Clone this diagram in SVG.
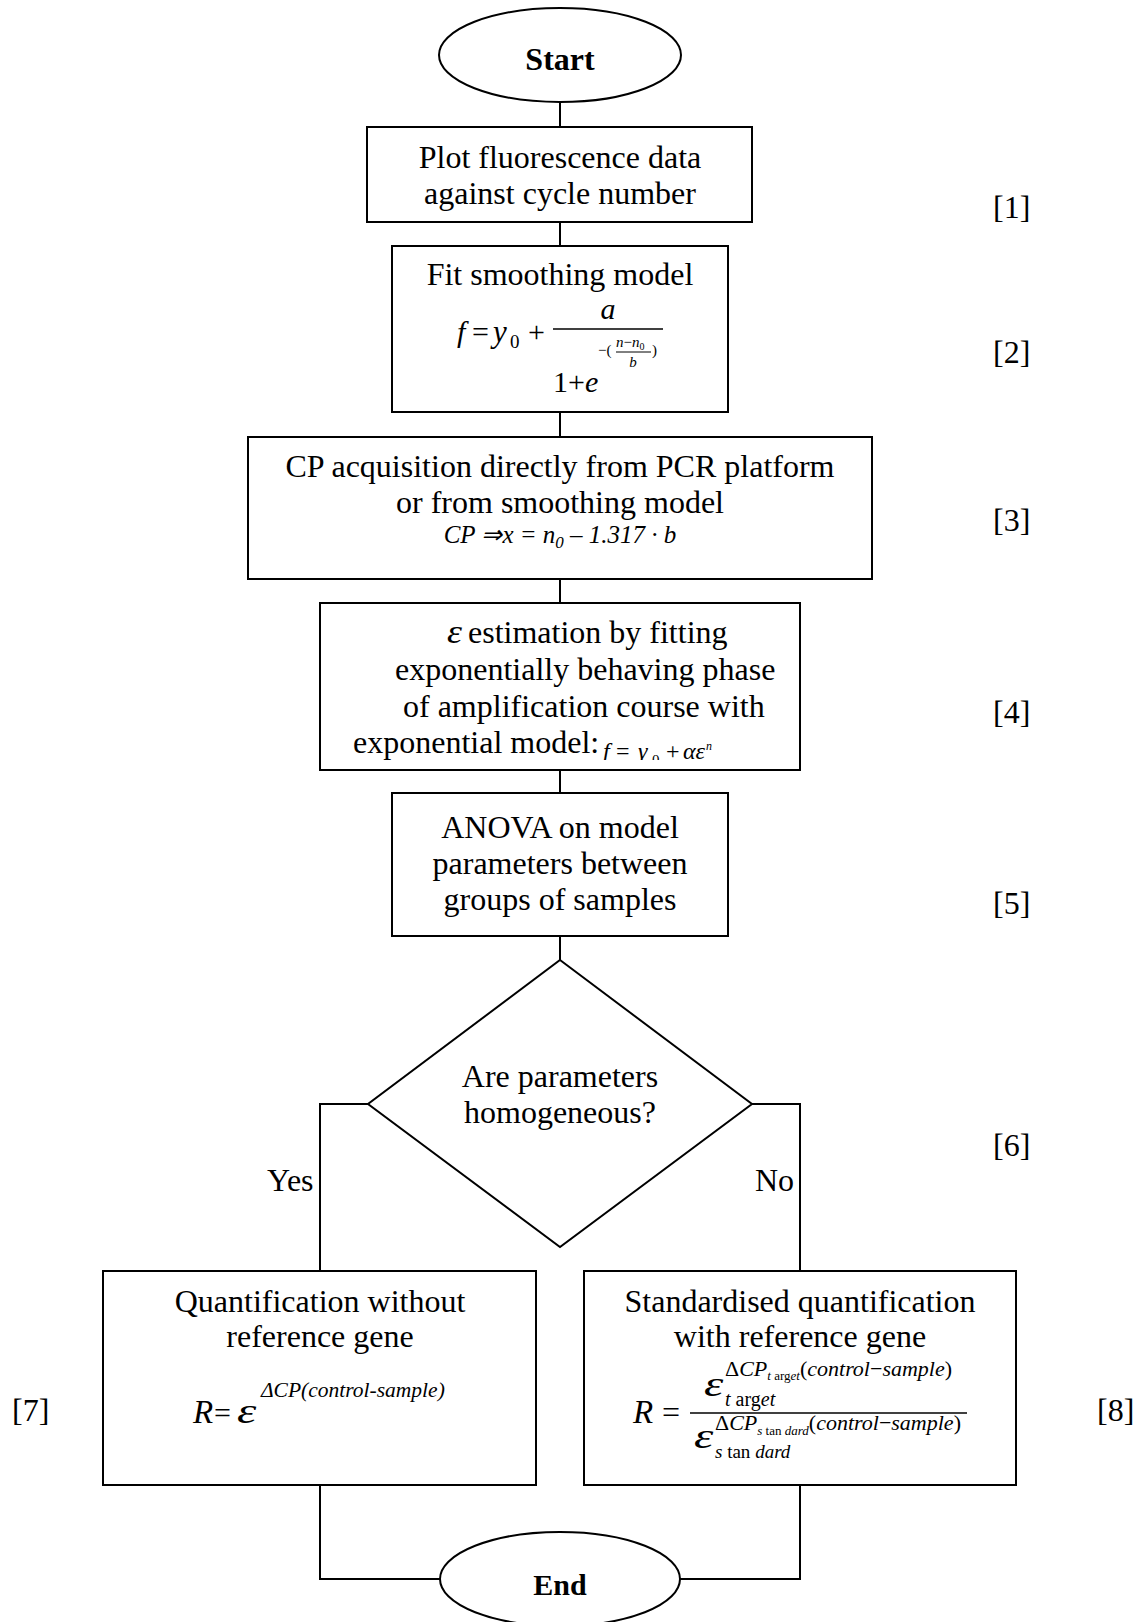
<svg xmlns="http://www.w3.org/2000/svg" width="1135" height="1622" viewBox="0 0 1135 1622">
<style>
svg{font-family:"Liberation Serif","Times New Roman",serif;font-size:32px}
.shape{fill:#fff;stroke:#000;stroke-width:2}
.conn{fill:none;stroke:#000;stroke-width:2}
.bar{stroke:#000;stroke-width:1.5}
text{fill:#000}
.c{text-anchor:middle}
.b{font-weight:bold}
.i{font-style:italic}
.u{font-style:normal}
</style>
<defs>
<clipPath id="clip4"><rect x="590" y="720" width="140" height="40"/></clipPath>
</defs>
<rect width="1135" height="1622" fill="#fff"/>
<g id="connectors">
<path class="conn" d="M560 102V127M560 222V246M560 412V437M560 579V603M560 770V793M560 936V960"/>
<path class="conn" d="M368 1104H320V1271M752 1104H800V1271"/>
<path class="conn" d="M320 1485V1579H440M800 1485V1579H680"/>
</g>
<g id="start">
<ellipse class="shape" cx="560" cy="55" rx="121" ry="47"/>
<text class="b c" x="560" y="70" font-size="32">Start</text>
</g>
<g id="plot">
<rect class="shape" x="367" y="127" width="385" height="95"/>
<text class="c" x="560" y="168">Plot fluorescence data</text>
<text class="c" x="560" y="204">against cycle number</text>
</g>
<g id="fit">
<rect class="shape" x="392" y="246" width="336" height="166"/>
<text class="c" x="560" y="285">Fit smoothing model</text>
<text class="i" x="457" y="342" font-size="30">f</text>
<text x="472" y="342" font-size="30">=</text>
<text class="i" x="493" y="342" font-size="31">y</text>
<text x="510" y="348" font-size="19">0</text>
<text x="528" y="342" font-size="30">+</text>
<line class="bar" x1="553" y1="329" x2="663" y2="329"/>
<text class="i c" x="608" y="319" font-size="30">a</text>
<text x="598" y="355" font-size="15">−(</text>
<text class="i" x="616" y="347" font-size="15">n<tspan class="u">−</tspan>n<tspan font-size="10" dy="3" class="u">0</tspan></text>
<line x1="616" y1="352" x2="651" y2="352" stroke="#000" stroke-width="1"/>
<text class="i c" x="633" y="367" font-size="15">b</text>
<text x="652" y="355" font-size="15">)</text>
<text x="553" y="392" font-size="30">1+<tspan class="i">e</tspan></text>
</g>
<g id="cp">
<rect class="shape" x="248" y="437" width="624" height="142"/>
<text class="c" x="560" y="477">CP acquisition directly from PCR platform</text>
<text class="c" x="560" y="513">or from smoothing model</text>
<text class="i c" x="560" y="543" font-size="25">CP ⇒x = n<tspan font-size="17" dy="5">0</tspan><tspan dy="-5"> – 1.317 · b</tspan></text>
</g>
<g id="epsilon">
<rect class="shape" x="320" y="603" width="480" height="167"/>
<text class="i" transform="translate(447,643) scale(1.15,1)" font-size="33">ε</text>
<text x="468" y="643">estimation by fitting</text>
<text x="395" y="680">exponentially behaving phase</text>
<text x="403" y="717">of amplification course with</text>
<text x="353" y="753">exponential model:</text>
<g clip-path="url(#clip4)">
<text class="i" x="603" y="759" font-size="24">f</text>
<text x="616" y="759" font-size="24">=</text>
<text class="i" x="638" y="759" font-size="24">γ</text>
<text x="652" y="765" font-size="15">0</text>
<text x="666" y="759" font-size="24">+</text>
<text class="i" x="683" y="759" font-size="24">αε</text>
<text class="i" x="706" y="750" font-size="12">n</text>
</g>
</g>
<g id="anova">
<rect class="shape" x="392" y="793" width="336" height="143"/>
<text class="c" x="560" y="838">ANOVA on model</text>
<text class="c" x="560" y="874">parameters between</text>
<text class="c" x="560" y="910">groups of samples</text>
</g>
<g id="decision">
<polygon class="shape" points="560,960 752,1104 560,1247 368,1104"/>
<text class="c" x="560" y="1087">Are parameters</text>
<text class="c" x="560" y="1123">homogeneous?</text>
</g>
<g id="edge-labels">
<text x="267" y="1191">Yes</text>
<text x="755" y="1191">No</text>
</g>
<g id="quant-no-ref">
<rect class="shape" x="103" y="1271" width="433" height="214"/>
<text class="c" x="320" y="1312">Quantification without</text>
<text class="c" x="320" y="1347">reference gene</text>
<text class="i" x="193" y="1423" font-size="33">R</text>
<text x="214" y="1423" font-size="30">=</text>
<text class="i" transform="translate(237,1423) scale(1.4,1)" font-size="35">ε</text>
<text class="i" x="261" y="1397" font-size="21.5">ΔCP(control-sample)</text>
</g>
<g id="quant-ref">
<rect class="shape" x="584" y="1271" width="432" height="214"/>
<text class="c" x="800" y="1312">Standardised quantification</text>
<text class="c" x="800" y="1347">with reference gene</text>
<text class="i" x="633" y="1423" font-size="33">R</text>
<text x="662" y="1423">=</text>
<line class="bar" x1="690" y1="1413" x2="967" y2="1413"/>
<text class="i" transform="translate(704,1396) scale(1.4,1)" font-size="35">ε</text>
<text x="725" y="1376" font-size="22">Δ<tspan class="i">CP</tspan><tspan font-size="13" dy="4"><tspan class="i">t</tspan> arg<tspan class="i">et</tspan></tspan><tspan dy="-4">(<tspan class="i">control</tspan>−<tspan class="i">sample</tspan>)</tspan></text>
<text x="725" y="1406" font-size="20"><tspan class="i">t</tspan> arg<tspan class="i">et</tspan></text>
<text class="i" transform="translate(694,1448) scale(1.4,1)" font-size="35">ε</text>
<text x="715" y="1430" font-size="22">Δ<tspan class="i">CP</tspan><tspan font-size="13" dy="5"><tspan class="i">s</tspan> tan <tspan class="i">dard</tspan></tspan><tspan dy="-5">(<tspan class="i">control</tspan>−<tspan class="i">sample</tspan>)</tspan></text>
<text x="715" y="1458" font-size="19"><tspan class="i">s</tspan> tan <tspan class="i">dard</tspan></text>
</g>
<g id="end">
<ellipse class="shape" cx="560" cy="1579" rx="120" ry="47"/>
<text class="b c" x="560" y="1595" font-size="30">End</text>
</g>
<g id="step-labels">
<text x="993" y="218">[1]</text>
<text x="993" y="363">[2]</text>
<text x="993" y="531">[3]</text>
<text x="993" y="723">[4]</text>
<text x="993" y="914">[5]</text>
<text x="993" y="1156">[6]</text>
<text x="12" y="1421">[7]</text>
<text x="1097" y="1421">[8]</text>
</g>
</svg>
